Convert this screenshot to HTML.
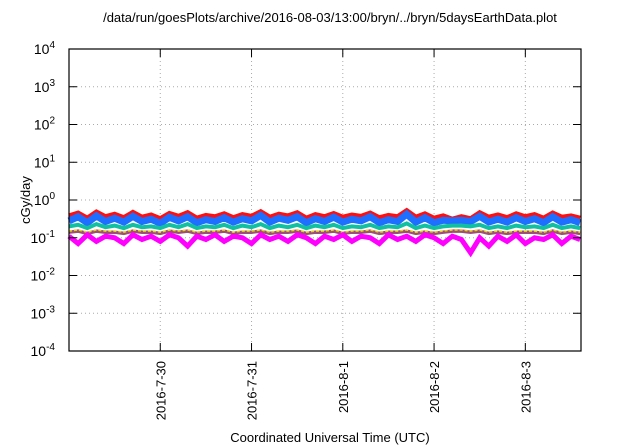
<!DOCTYPE html>
<html><head><meta charset="utf-8"><style>
html,body{margin:0;padding:0;background:#fff;}
svg{display:block;font-family:"Liberation Sans",sans-serif;}
</style></head><body>
<svg id="chart" width="640" height="448" viewBox="0 0 640 448">
<text x="330" y="22" text-anchor="middle" font-size="13">/data/run/goesPlots/archive/2016-08-03/13:00/bryn/../bryn/5daysEarthData.plot</text>
<g id="grid"></g>
<g id="series"></g>
<rect x="69" y="49" width="512" height="302" fill="none" stroke="#000" stroke-width="1.2"/>
<g id="axes"></g>
<text transform="translate(30,200) rotate(-90)" text-anchor="middle" font-size="13">cGy/day</text>
<text x="330" y="442" text-anchor="middle" font-size="13">Coordinated Universal Time (UTC)</text>
</svg>
<script>
const yExps = [-4,-3,-2,-1,0,1,2,3,4];
const xTickDays = [1,2,3,4,5];
const xTickLabels = ["2016-7-30","2016-7-31","2016-8-1","2016-8-2","2016-8-3"];
const red = [0.38,0.45,0.33,0.48,0.36,0.42,0.34,0.47,0.35,0.40,0.32,0.44,0.37,0.46,0.33,0.39,0.36,0.43,0.34,0.41,0.37,0.49,0.35,0.42,0.38,0.46,0.33,0.41,0.36,0.44,0.35,0.40,0.37,0.45,0.34,0.39,0.36,0.52,0.35,0.43,0.33,0.38,0.31,0.36,0.32,0.46,0.35,0.40,0.34,0.43,0.36,0.41,0.33,0.45,0.35,0.38,0.33];
const blue = [0.28,0.36,0.25,0.38,0.27,0.33,0.26,0.37,0.27,0.31,0.24,0.35,0.28,0.36,0.25,0.30,0.27,0.34,0.26,0.32,0.28,0.39,0.26,0.33,0.29,0.36,0.25,0.32,0.27,0.35,0.26,0.31,0.28,0.36,0.25,0.30,0.27,0.42,0.26,0.34,0.25,0.29,0.28,0.29,0.27,0.37,0.26,0.31,0.26,0.34,0.27,0.32,0.25,0.36,0.26,0.30,0.25];
const teal = [0.20,0.22,0.18,0.23,0.19,0.21,0.18,0.22,0.19,0.20,0.18,0.22,0.19,0.23,0.18,0.20,0.19,0.22,0.18,0.21,0.19,0.23,0.18,0.21,0.19,0.22,0.18,0.21,0.19,0.22,0.18,0.20,0.19,0.22,0.18,0.20,0.19,0.24,0.18,0.21,0.18,0.20,0.21,0.21,0.20,0.22,0.18,0.20,0.18,0.21,0.19,0.20,0.18,0.22,0.18,0.20,0.18];
const yellow = [0.15,0.16,0.14,0.16,0.15,0.15,0.14,0.16,0.15,0.15,0.14,0.16,0.15,0.16,0.14,0.15,0.15,0.16,0.14,0.15,0.15,0.16,0.14,0.15,0.15,0.16,0.14,0.15,0.15,0.16,0.14,0.15,0.15,0.16,0.14,0.15,0.15,0.16,0.14,0.15,0.14,0.15,0.16,0.16,0.15,0.16,0.14,0.15,0.14,0.15,0.15,0.15,0.14,0.16,0.14,0.15,0.14];
const purple = [0.14,0.15,0.13,0.15,0.14,0.14,0.13,0.15,0.14,0.14,0.13,0.15,0.14,0.15,0.13,0.14,0.14,0.15,0.13,0.14,0.14,0.15,0.13,0.14,0.14,0.15,0.13,0.14,0.14,0.15,0.13,0.14,0.14,0.15,0.13,0.14,0.14,0.15,0.13,0.14,0.13,0.14,0.15,0.15,0.14,0.15,0.13,0.14,0.13,0.14,0.14,0.14,0.13,0.15,0.13,0.14,0.13];
const magenta = [0.11,0.07,0.12,0.08,0.11,0.10,0.07,0.12,0.09,0.11,0.08,0.12,0.10,0.06,0.11,0.09,0.12,0.08,0.11,0.10,0.07,0.12,0.09,0.11,0.08,0.12,0.10,0.07,0.11,0.09,0.12,0.08,0.11,0.10,0.07,0.12,0.09,0.11,0.08,0.12,0.10,0.07,0.11,0.09,0.04,0.10,0.06,0.11,0.08,0.12,0.07,0.10,0.09,0.12,0.07,0.11,0.09];
const T0 = 0, dt = 0.1;
const L=69,R=581,T=49,B=351, xMin=0, xMax=5.61;
const NS="http://www.w3.org/2000/svg";
function xs(d){return L+(d-xMin)/(xMax-xMin)*(R-L);}
function ys(v){return B-(Math.log10(v)+4)/8*(B-T);}
function mk(tag,attrs,parent){const e=document.createElementNS(NS,tag);for(const k in attrs)e.setAttribute(k,attrs[k]);parent.appendChild(e);return e;}
const grid=document.getElementById('grid'), axes=document.getElementById('axes'), ser=document.getElementById('series');
yExps.forEach(p=>{
  const y=ys(Math.pow(10,p));
  if(p>-4&&p<4){const g=mk('line',{x1:L,x2:R,y1:y,y2:y,stroke:'#aaa','stroke-dasharray':'1,3','stroke-width':1},grid);
  
  }
  const t1=mk('line',{x1:L,x2:L+8,y1:y,y2:y,stroke:'#000'},axes);
  
  
  const t2=mk('line',{x1:R-8,x2:R,y1:y,y2:y,stroke:'#000'},axes);
  
  
  const tx=mk('text',{x:L-14,y:y+5,'text-anchor':'end','font-size':14},axes);
  
  
  tx.textContent='10';
  const sp=mk('tspan',{dy:-6,'font-size':10},tx);sp.textContent=String(p);
});
xTickDays.forEach((d,i)=>{
  const x=xs(d);
  const g=mk('line',{x1:x,x2:x,y1:T,y2:B,stroke:'#aaa','stroke-dasharray':'1,3'},grid);
  
  
  const t1=mk('line',{x1:x,x2:x,y1:B,y2:B-8,stroke:'#000'},axes);
  
  
  const t2=mk('line',{x1:x,x2:x,y1:T,y2:T+8,stroke:'#000'},axes);
  
  
  const tx=mk('text',{transform:`translate(${x+5},${B+10}) rotate(-90)`,'text-anchor':'end','font-size':13},axes);
  
  
  tx.textContent=xTickLabels[i];
});
const seriesList=[[red,'#ff1010',5,null,'red'],[blue,'#1e6eff',7,null,'blue'],[teal,'#10c0a0',4,null,'teal'],[purple,'#9b4f7a',3.5,null,'purple'],[yellow,'#e8d800',1.5,'3,2','yellow'],[magenta,'#ff00ff',5,null,'magenta']];
seriesList.forEach(s=>{
  const pts=s[0].map((v,i)=>xs(T0+i*dt).toFixed(1)+','+ys(v).toFixed(1)).join(' ');
  const a={points:pts,fill:'none',stroke:s[1],'stroke-width':s[2],'stroke-linejoin':'miter'};
  if(s[3])a['stroke-dasharray']=s[3];
  const p=mk('polyline',a,ser);
  
  
});
</script>
</body></html>
